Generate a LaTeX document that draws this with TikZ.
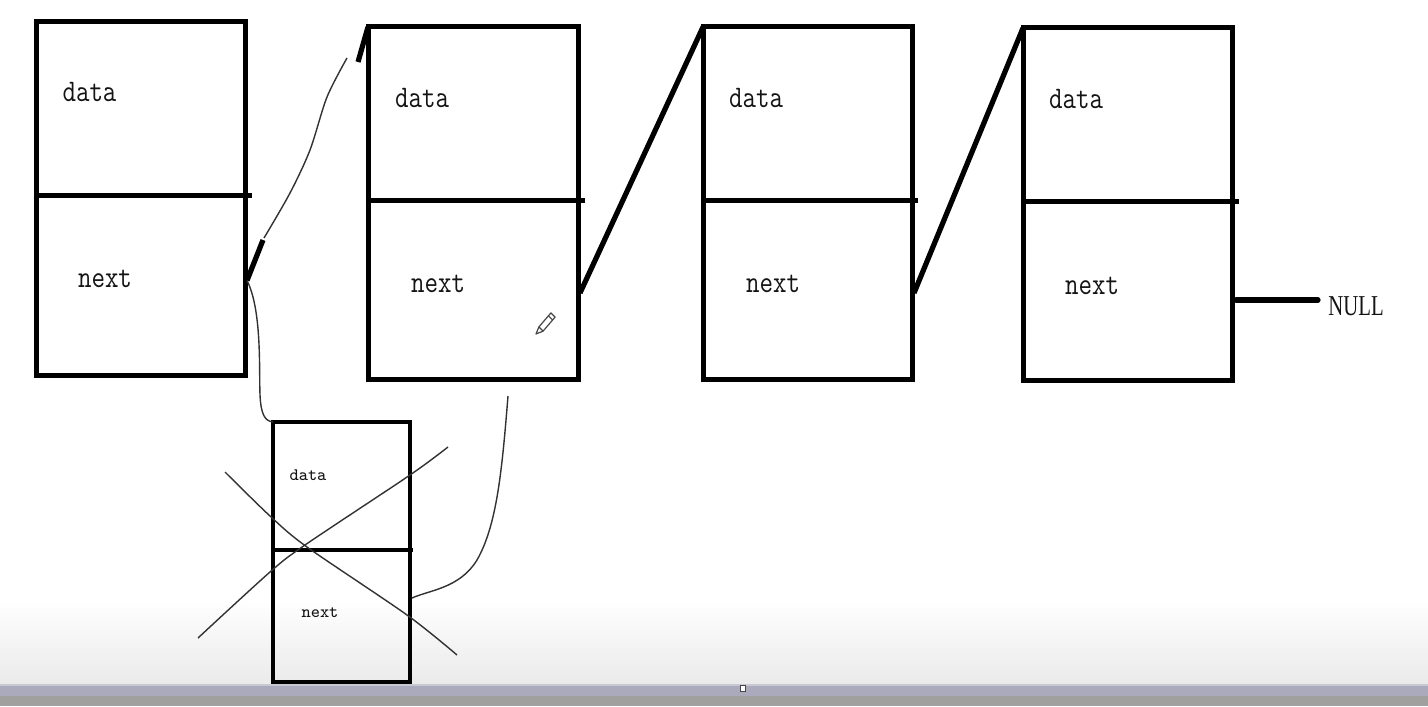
\documentclass[tikz,border=0pt]{standalone}
\usepackage{fontspec}
\usepackage{graphicx}
\newfontfamily\myserif{Liberation Serif}
\usetikzlibrary{calc}
\definecolor{inkc}{RGB}{20,20,20}
\definecolor{pencilc}{RGB}{70,70,70}
\definecolor{shadebot}{RGB}{234,234,234}
\definecolor{barc}{RGB}{170,170,188}
\definecolor{barlight}{RGB}{200,200,212}
\definecolor{bargray}{RGB}{160,160,158}
\newcommand\talltxt[1]{\scalebox{1}[1.2]{#1}}
\begin{document}
\begin{tikzpicture}[x=0.5pt,y=-0.5pt,
  box/.style={draw=black, line width=2.5pt, rectangle, outer sep=0pt, inner sep=0pt},
  smallbox/.style={box, line width=2pt},
  divider/.style={draw=black, line width=2.5pt},
  smalldivider/.style={draw=black, line width=2pt},
  thickc/.style={draw=black, line width=2.6pt},
  freeline/.style={draw={rgb,255:red,50;green,50;blue,50}, line width=0.7pt},
  lbl/.style={inner sep=0pt, anchor=base, text=inkc, font=\fontsize{13.1pt}{15pt}\selectfont\ttfamily},
  smalllbl/.style={inner sep=0pt, anchor=base, text=inkc, font=\fontsize{8.8pt}{10pt}\selectfont\ttfamily},
  nulllbl/.style={inner sep=0pt, anchor=west, text=inkc, font=\fontsize{14.4pt}{16pt}\selectfont\myserif}
]
\useasboundingbox (0,0) rectangle (1428,706);
\fill[white] (0,0) rectangle (1428,706);
\shade[top color=white, bottom color=shadebot] (0,600) rectangle (1428,684);

% boxes
\node[box, minimum width=104.5pt, minimum height=176.5pt] (b1) at (140.5,198.5) {};
\node[box, minimum width=105pt, minimum height=176pt] (b2) at (473,203) {};
\node[box, minimum width=104.5pt, minimum height=176pt] (b3) at (807.5,203) {};
\node[box, minimum width=104.5pt, minimum height=176pt] (b4) at (1127.5,204) {};
\node[smallbox, minimum width=68.5pt, minimum height=130pt] (b5) at (341.5,552) {};

% dividers
\draw[divider] ($(b1.west)+(0,-3.5)$) -- ++(216,0);
\draw[divider] ($(b2.west)+(0,-3)$) -- ++(217,0);
\draw[divider] ($(b3.west)+(0,-3)$) -- ++(215,0);
\draw[divider] ($(b4.west)+(0,-3)$) -- ++(216,0);
\draw[smalldivider] ($(b5.west)+(0,-2)$) -- ++(140,0);

% labels
\node[lbl] (d1) at (89.5,102) {\talltxt{data}};
\node[lbl] (n1) at (105,287) {\talltxt{next}};
\node[lbl] (d2) at (422,107) {\talltxt{data}};
\node[lbl] (n2) at (438,292) {\talltxt{next}};
\node[lbl] (d3) at (756,107) {\talltxt{data}};
\node[lbl] (n3) at (773,292) {\talltxt{next}};
\node[lbl] (d4) at (1076,109) {\talltxt{data}};
\node[lbl] (n4) at (1092,294) {\talltxt{next}};
\node[smalllbl] (d5) at (308,480) {data};
\node[smalllbl] (n5) at (320,617) {next};

% thick connectors
\draw[thickc] ($(b2.east)+(2,90)$) -- (b3.north west);
\draw[thickc] ($(b3.east)+(2,90)$) -- (b4.north west);

% box1 -> box2 (partially redrawn)
\coordinate (s1) at ($(b1.east)+(2,82)$);
\coordinate (k1) at (263,240);
\coordinate (k2) at (358,62);
\draw[thickc] (s1) -- (k1);
\draw[freeline] plot[smooth] coordinates {(264,238) (290,193) (310,150) (327,97) (347,58)};
\draw[thickc] (k2) -- (b2.north west);

% box1 -> removed box
\draw[freeline] (s1) .. controls (262,310) and (259,370) .. (260,395) .. controls (261,415) and (265,421) .. (b5.north west);

% removed box -> box2
\coordinate (e2) at (508,396);
\draw[freeline] (e2) .. controls (502,470) and (497,525) .. (477,560) .. controls (460,588) and (430,590) .. ($(b5.east)+(2,46)$);

% cross over removed box
\draw[freeline] plot[smooth] coordinates {(225,472) (270,516) (307,547) (407,615) (457,655)};
\draw[freeline] plot[smooth] coordinates {(198,638) (270,572) (305,545) (410,475) (448,447)};

% NULL
\node[nulllbl] (null) at (1328,306) {\scalebox{0.72}[1]{NULL}};
\draw[thickc, line cap=round] ($(b4.east)+(4,96)$) -- ($(null.west)+(-10,-6)$);

% pencil cursor
\draw[pencilc, line width=0.6pt, line join=round] (536,334) -- (538.9,326.9) -- (550.9,312.9) -- (555.1,317.1) -- (543.1,331.1) -- cycle;
\draw[pencilc, line width=0.6pt] (548.4,315.8) -- (552.6,320);
\draw[pencilc, line width=0.6pt] (538.9,326.9) -- (543.1,331.1);

% bottom bar
\fill[barc] (0,684) rectangle (1428,696);
\fill[barlight] (0,684) rectangle (1428,686);
\fill[bargray] (0,696) rectangle (1428,706);
\draw[pencilc, line width=0.5pt, fill=white] (740,685) rectangle (745,691);
\end{tikzpicture}
\end{document}
